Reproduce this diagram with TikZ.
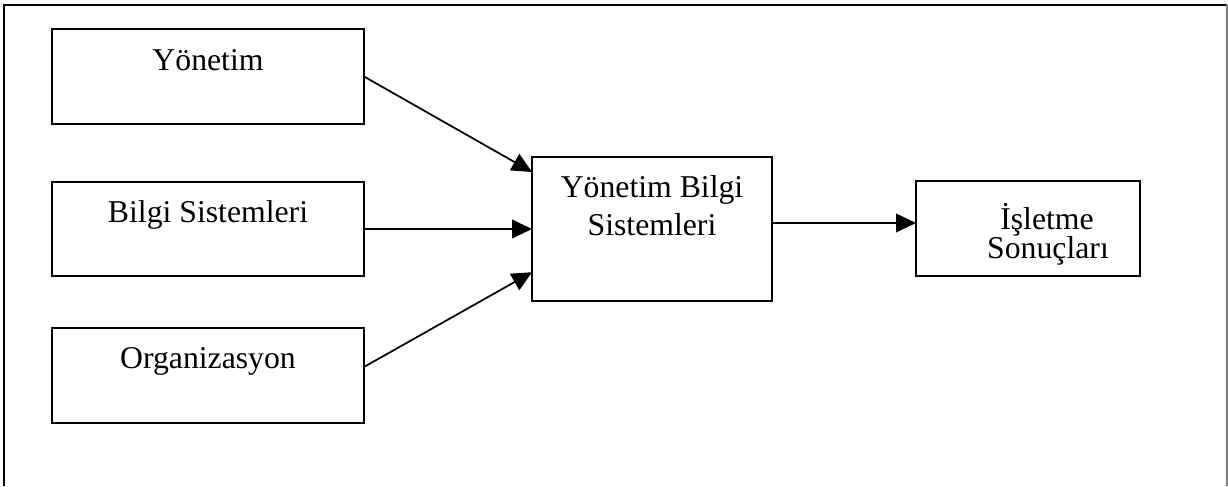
\documentclass[tikz,border=0pt]{standalone}
\usepackage{fontspec}
\setmainfont{Liberation Serif}
\usetikzlibrary{arrows.meta,calc}
\begin{document}
\begin{tikzpicture}[x=0.75pt,y=-0.75pt,
  box/.style={draw, line width=1.6pt, inner sep=0pt, outer sep=0pt},
  lbl/.style={font=\fontsize{23.8}{28}\selectfont, inner sep=0pt, anchor=base},
  link/.style={line width=1.3pt, -{Triangle[length=15pt,width=14pt]}}]
\useasboundingbox (0,0) rectangle (1228,486);

% open frame: left, top and right sides only
\draw[line width=1.6pt] (4,486) -- (4,5) -- (1227,5);
\draw[line width=0.8pt, gray] (1227,5) -- (1227,486);

% boxes
\node[box, minimum width=234pt, minimum height=71.25pt] (yon) at (208,76.5) {};
\node[box, minimum width=234pt, minimum height=70.5pt] (bil) at (208,229) {};
\node[box, minimum width=234pt, minimum height=71.25pt] (org) at (208,375.5) {};
\node[box, minimum width=180pt, minimum height=108pt] (mbs) at (652,229) {};
\node[box, minimum width=168pt, minimum height=71.25pt] (res) at (1028,228.5) {};

% labels
\node[lbl] (tyon) at (208,70) {Yönetim};
\node[lbl] (tbil) at (208,222) {Bilgi Sistemleri};
\node[lbl] (torg) at (208,368) {Organizasyon};
\node[lbl] (tmbs1) at (652,197) {Yönetim Bilgi};
\node[lbl] (tmbs2) at (652,235) {Sistemleri};
\node[lbl] (tres1) at (1047,229) {İşletme};
\node[lbl] (tres2) at (1048,258) {Sonuçları};

% connectors
\draw[link] (yon.east) -- ($(mbs.north west)!0.104!(mbs.south west)$);
\draw[link] (bil.east) -- (mbs.west);
\draw[link] ($(org.north east)!0.41!(org.south east)$) -- ($(mbs.north west)!0.8!(mbs.south west)$);
\draw[link] ($(mbs.east)+(0,-6)$) -- ($(res.west)+(0,-5.5)$);
\end{tikzpicture}
\end{document}
